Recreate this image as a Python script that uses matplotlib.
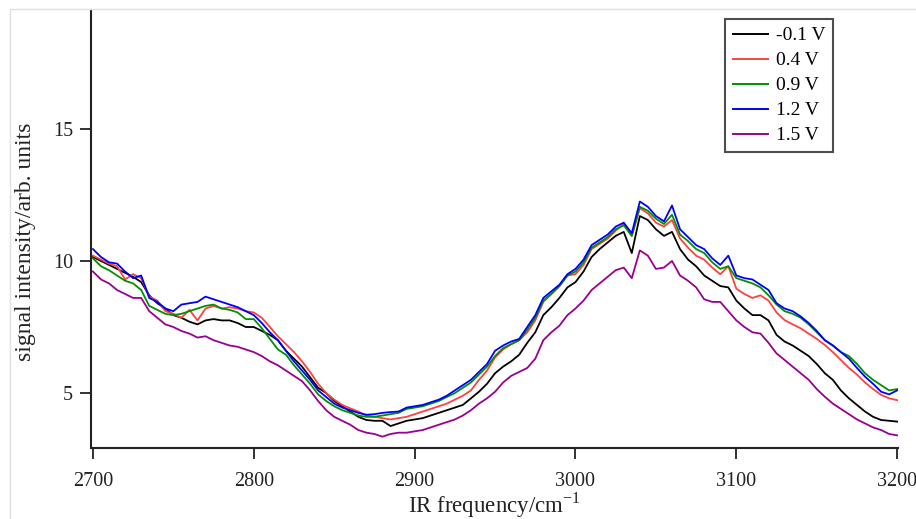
import numpy as np
import matplotlib
matplotlib.use("Agg")
import matplotlib.pyplot as plt
from matplotlib.patches import Rectangle

# ---------------------------------------------------------------------
# Data (5 cm^-1 steps)
# ---------------------------------------------------------------------

FREQ = np.arange(2700, 3201, 5)

SIG_M01 = [  # -0.1 V
    10.15, 10.0, 9.85, 9.7, 9.55, 9.4, 9.2, 8.7, 8.4, 8.2,
    7.95, 7.85, 7.7, 7.6, 7.75, 7.8, 7.75, 7.75, 7.65, 7.5,
    7.5, 7.35, 7.2, 7.0, 6.6, 6.3, 6.0, 5.6, 5.2, 5.0,
    4.7, 4.5, 4.3, 4.1, 3.98, 3.95, 3.95, 3.75, 3.85, 3.95,
    4.0, 4.05, 4.15, 4.25, 4.35, 4.45, 4.55, 4.8, 5.05, 5.35,
    5.75, 6.0, 6.2, 6.45, 6.9, 7.3, 7.95, 8.25, 8.6, 9.0,
    9.2, 9.6, 10.15, 10.45, 10.7, 10.95, 11.1, 10.3, 11.7, 11.55,
    11.2, 10.95, 11.1, 10.45, 10.05, 9.8, 9.45, 9.25, 9.05, 9.0,
    8.5, 8.2, 7.95, 7.95, 7.75, 7.2, 6.95, 6.8, 6.6, 6.4,
    6.1, 5.75, 5.5, 5.1, 4.8, 4.55, 4.3, 4.1, 3.98, 3.95,
    3.92,
]

SIG_04 = [  # 0.4 V
    10.2, 10.05, 9.9, 9.8, 9.3, 9.5, 9.35, 8.65, 8.5, 8.1,
    8.0, 7.85, 8.15, 7.75, 8.2, 8.3, 8.2, 8.25, 8.2, 8.1,
    8.05, 7.85, 7.5, 7.15, 6.85, 6.55, 6.2, 5.8, 5.35, 5.0,
    4.75, 4.55, 4.42, 4.3, 4.15, 4.1, 4.05, 4.0, 4.05, 4.1,
    4.2, 4.3, 4.4, 4.5, 4.6, 4.75, 4.9, 5.1, 5.5, 5.85,
    6.35, 6.65, 6.85, 7.0, 7.3, 7.75, 8.45, 8.75, 9.05, 9.45,
    9.5, 9.85, 10.45, 10.65, 10.85, 11.15, 11.4, 10.95, 12.0, 11.8,
    11.45, 11.3, 11.55, 10.85, 10.5, 10.2, 10.05, 9.75, 9.5, 9.8,
    8.95, 8.75, 8.6, 8.7, 8.5, 8.05, 7.76, 7.6, 7.45, 7.25,
    7.05, 6.82, 6.55, 6.25, 5.95, 5.7, 5.4, 5.15, 4.93, 4.8,
    4.73,
]

SIG_09 = [  # 0.9 V
    10.1, 9.8, 9.65, 9.45, 9.25, 9.15, 8.9, 8.3, 8.15, 8.0,
    7.95, 8.0, 8.1, 8.2, 8.3, 8.35, 8.2, 8.15, 8.05, 7.8,
    7.8, 7.45, 7.05, 6.65, 6.45, 6.05, 5.7, 5.35, 4.95, 4.7,
    4.5, 4.35, 4.25, 4.15, 4.1, 4.1, 4.15, 4.2, 4.25, 4.4,
    4.45, 4.5, 4.6, 4.7, 4.85, 5.0, 5.2, 5.4, 5.7, 6.0,
    6.4, 6.7, 6.85, 7.0, 7.4, 7.85, 8.5, 8.75, 9.05, 9.45,
    9.6, 9.95, 10.5, 10.7, 10.9, 11.2, 11.35, 10.95, 12.05, 11.9,
    11.6, 11.4, 11.75, 11.0, 10.75, 10.45, 10.3, 9.95, 9.7, 9.8,
    9.35, 9.25, 9.15, 9.0, 8.7, 8.35, 8.1, 8.0, 7.85, 7.6,
    7.3, 7.0, 6.8, 6.55, 6.4, 6.1, 5.75, 5.5, 5.3, 5.1,
    5.15,
]

SIG_12 = [  # 1.2 V
    10.45, 10.15, 9.95, 9.9, 9.6, 9.35, 9.45, 8.6, 8.45, 8.2,
    8.1, 8.35, 8.4, 8.45, 8.65, 8.55, 8.45, 8.35, 8.25, 8.1,
    7.95, 7.65, 7.3, 7.0, 6.6, 6.2, 5.85, 5.5, 5.1, 4.85,
    4.6, 4.45, 4.35, 4.25, 4.18, 4.2, 4.25, 4.28, 4.3, 4.45,
    4.5, 4.55, 4.65, 4.75, 4.9, 5.1, 5.3, 5.5, 5.8, 6.1,
    6.6, 6.8, 6.95, 7.05, 7.5, 7.95, 8.6, 8.85, 9.1, 9.5,
    9.7, 10.05, 10.6, 10.8, 11.0, 11.3, 11.45, 11.05, 12.25, 12.05,
    11.7, 11.5, 12.1, 11.2, 10.9, 10.6, 10.45, 10.1, 9.85, 10.2,
    9.45, 9.35, 9.3, 9.1, 8.9, 8.4, 8.2, 8.1, 7.9, 7.65,
    7.35, 7.0, 6.8, 6.55, 6.3, 5.95, 5.62, 5.35, 5.05, 4.95,
    5.1,
]

SIG_15 = [  # 1.5 V
    9.6, 9.3, 9.15, 8.9, 8.75, 8.6, 8.6, 8.1, 7.85, 7.6,
    7.5, 7.35, 7.25, 7.1, 7.15, 7.0, 6.9, 6.8, 6.75, 6.65,
    6.55, 6.4, 6.2, 6.05, 5.85, 5.65, 5.45, 5.1, 4.7, 4.35,
    4.1, 3.95, 3.8, 3.6, 3.5, 3.45, 3.35, 3.45, 3.5, 3.5,
    3.55, 3.6, 3.7, 3.8, 3.9, 4.0, 4.15, 4.35, 4.6, 4.8,
    5.05, 5.4, 5.65, 5.8, 5.95, 6.3, 7.0, 7.3, 7.55, 7.95,
    8.2, 8.5, 8.9, 9.15, 9.4, 9.65, 9.75, 9.35, 10.4, 10.2,
    9.7, 9.75, 10.0, 9.45, 9.25, 9.0, 8.55, 8.45, 8.45, 8.1,
    7.75, 7.5, 7.3, 7.25, 6.9, 6.5, 6.25, 6.0, 5.75, 5.5,
    5.15, 4.86, 4.6, 4.4, 4.2, 4.0, 3.85, 3.7, 3.6, 3.45,
    3.4,
]

SERIES = [
    ("-0.1 V", SIG_M01, "#000000"),
    ("0.4 V", SIG_04, "#ff4040"),
    ("0.9 V", SIG_09, "#009000"),
    ("1.2 V", SIG_12, "#0000ff"),
    ("1.5 V", SIG_15, "#990090"),
]

# ---------------------------------------------------------------------
# Plot
# ---------------------------------------------------------------------

plt.rcParams["font.family"] = ["Liberation Serif", "DejaVu Serif"]

fig = plt.figure(figsize=(9.16, 5.19), dpi=100)
fig.patches.append(Rectangle((10 / 916, -0.1), 1.2, 1.1 - 9 / 519,
                             transform=fig.transFigure, fill=False,
                             edgecolor="#e0e0e0", linewidth=1.0))

ax = fig.add_axes([91 / 916, 71 / 519, 807 / 916, 438 / 519])

for label, values, color in SERIES:
    ax.plot(FREQ, values, color=color, linewidth=1.3, label=label)

ax.set_xlim(2698.8, 3200.5)
ax.set_ylim(2.92, 19.5)
ax.set_xticks([2700, 2800, 2900, 3000, 3100, 3200])
ax.set_yticks([5, 10, 15])

for side in ("top", "right"):
    ax.spines[side].set_visible(False)
for side in ("left", "bottom"):
    ax.spines[side].set_linewidth(1.5)
    ax.spines[side].set_color("#222222")

ax.tick_params(axis="both", direction="out", length=8, width=1.3,
               color="#222222", labelsize=14.5, labelcolor="#222222")
ax.tick_params(axis="x", pad=9)
ax.tick_params(axis="y", pad=5)

ax.set_xlabel("IR frequency/cm$^{\\mathregular{-1}}$", fontsize=16.5,
              color="#222222", labelpad=0)
ax.set_ylabel("signal intensity/arb. units", fontsize=17, color="#222222",
              labelpad=8)
ax.yaxis.set_label_coords(-0.068, 0.47)

leg = ax.legend(loc="upper right", bbox_to_anchor=(0.9195, 0.9795),
                borderaxespad=0, fontsize=14, handlelength=1.8,
                handletextpad=0.4, labelspacing=0.38, borderpad=0.4,
                fancybox=False, frameon=True)
leg.get_frame().set_edgecolor("#222222")
leg.get_frame().set_linewidth(1.5)
for line in leg.get_lines():
    line.set_linewidth(1.4)

fig.savefig("out.png", dpi=100)
